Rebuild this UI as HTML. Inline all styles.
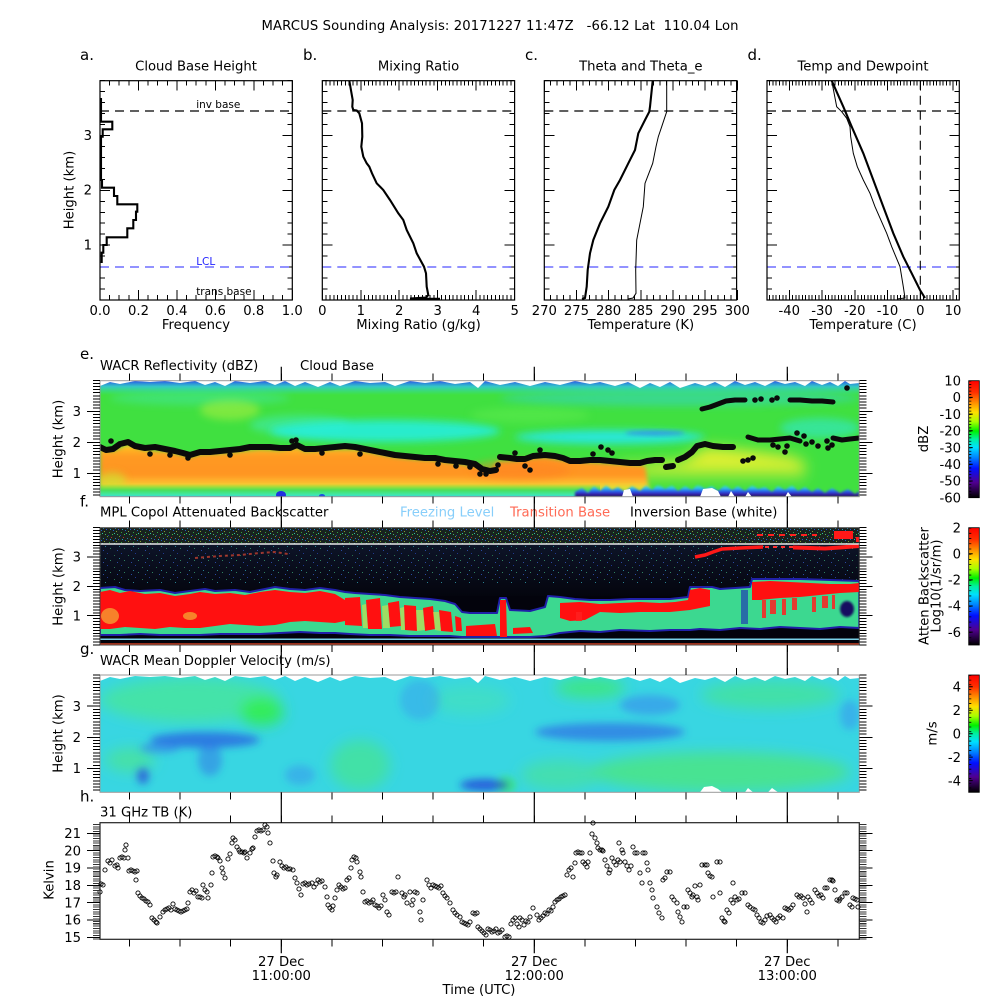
<!DOCTYPE html>
<html><head><meta charset="utf-8"><style>
html,body{margin:0;padding:0;background:#fff;}
svg{display:block;}
text{font-family:"DejaVu Sans","Liberation Sans",sans-serif;fill:#000;font-size:13.2px;}
</style></head><body>
<svg xmlns="http://www.w3.org/2000/svg" xmlns:xlink="http://www.w3.org/1999/xlink" width="1000" height="1000" viewBox="0 0 1000 1000">
<defs>
 <linearGradient id="rb" x1="0" y1="0" x2="0" y2="1">
  <stop offset="0" stop-color="#ff0000"/><stop offset="0.1" stop-color="#ff3000"/>
  <stop offset="0.19" stop-color="#ff9000"/><stop offset="0.27" stop-color="#ffe000"/>
  <stop offset="0.35" stop-color="#a8ff00"/><stop offset="0.43" stop-color="#00f000"/>
  <stop offset="0.5" stop-color="#00f0a0"/><stop offset="0.57" stop-color="#00e0ff"/>
  <stop offset="0.66" stop-color="#0080ff"/><stop offset="0.75" stop-color="#0010ff"/>
  <stop offset="0.87" stop-color="#500090"/><stop offset="1" stop-color="#000000"/>
 </linearGradient>
 <linearGradient id="og" gradientUnits="userSpaceOnUse" x1="0" y1="444" x2="0" y2="495">
  <stop offset="0" stop-color="#f0d830"/><stop offset="0.1" stop-color="#ffb424"/>
  <stop offset="0.25" stop-color="#ff9a22"/><stop offset="0.6" stop-color="#ff9422"/>
  <stop offset="0.75" stop-color="#ffb830"/><stop offset="0.85" stop-color="#e8e030"/>
  <stop offset="0.95" stop-color="#90e838"/><stop offset="1" stop-color="#60e040"/>
 </linearGradient>
 <linearGradient id="yg" x1="0" y1="0" x2="0" y2="1">
  <stop offset="0" stop-color="#e8f030"/><stop offset="0.55" stop-color="#d8f030"/><stop offset="1" stop-color="#60e040" stop-opacity="0"/>
 </linearGradient>
 <linearGradient id="topE" x1="0" y1="0" x2="0" y2="1">
  <stop offset="0" stop-color="#2850f0" stop-opacity="0.95"/><stop offset="0.4" stop-color="#30c0f0" stop-opacity="0.75"/><stop offset="1" stop-color="#30e0c0" stop-opacity="0"/>
 </linearGradient>
 <linearGradient id="botL" x1="0" y1="0" x2="0" y2="1">
  <stop offset="0" stop-color="#50e040" stop-opacity="0"/><stop offset="0.5" stop-color="#48e060"/><stop offset="0.85" stop-color="#40e8b0"/><stop offset="1" stop-color="#30c8f0"/>
 </linearGradient>
 <linearGradient id="botR" gradientUnits="userSpaceOnUse" x1="0" y1="484" x2="0" y2="497">
  <stop offset="0" stop-color="#30d8f0" stop-opacity="0"/><stop offset="0.3" stop-color="#30c8f0"/><stop offset="0.6" stop-color="#2850e8"/><stop offset="0.85" stop-color="#3a1090"/><stop offset="1" stop-color="#180030"/>
 </linearGradient>
 <linearGradient id="fdark" x1="0" y1="0" x2="0" y2="1">
  <stop offset="0" stop-color="#0d1428"/><stop offset="1" stop-color="#04050e"/>
 </linearGradient>
 <pattern id="spkD" width="12" height="10" patternUnits="userSpaceOnUse">
  <rect x="1" y="2" width="1" height="1" fill="#30a040"/><rect x="5" y="0" width="1" height="1" fill="#2060c0"/>
  <rect x="9" y="4" width="1" height="1" fill="#40b060"/><rect x="3" y="7" width="1" height="1" fill="#b03030"/>
  <rect x="7" y="8" width="1" height="1" fill="#2a80a0"/><rect x="11" y="6" width="1" height="1" fill="#60a030"/>
  <rect x="6" y="3" width="1" height="1" fill="#30c0a0"/><rect x="0" y="5" width="1" height="1" fill="#2040a0"/>
  <rect x="8" y="1" width="1" height="1" fill="#80a030"/><rect x="2" y="9" width="1" height="1" fill="#30a0c0"/>
  <rect x="10" y="9" width="1" height="1" fill="#3050d0"/><rect x="4" y="4" width="1" height="1" fill="#40c040"/>
 </pattern>
 <pattern id="spkS" width="14" height="12" patternUnits="userSpaceOnUse">
  <rect x="2" y="3" width="1" height="1" fill="#2a7050"/><rect x="9" y="1" width="1" height="1" fill="#203890"/>
  <rect x="12" y="8" width="1" height="1" fill="#308060"/><rect x="5" y="10" width="1" height="1" fill="#2a4aa0"/>
  <rect x="7" y="6" width="1" height="1" fill="#2a8090"/>
 </pattern>
 <filter id="b1" x="-20%" y="-50%" width="140%" height="200%"><feGaussianBlur stdDeviation="1"/></filter>
 <filter id="b2" x="-20%" y="-50%" width="140%" height="200%"><feGaussianBlur stdDeviation="2"/></filter>
 <filter id="b4" x="-30%" y="-80%" width="160%" height="260%"><feGaussianBlur stdDeviation="4"/></filter>
 <filter id="b7" x="-30%" y="-80%" width="160%" height="260%"><feGaussianBlur stdDeviation="7"/></filter>
 <clipPath id="cE"><rect x="100" y="380.7" width="759.3" height="116"/></clipPath>
 <clipPath id="cF"><rect x="100" y="527.7" width="759.3" height="117.3"/></clipPath>
 <clipPath id="cG"><rect x="100" y="675" width="759.3" height="117.3"/></clipPath>
 <marker id="mc" markerWidth="8" markerHeight="8" refX="4" refY="4" markerUnits="userSpaceOnUse"><circle cx="4" cy="4" r="2.1" fill="none" stroke="#000" stroke-width="0.9"/></marker>
 <g id="yt">
  <g shape-rendering="crispEdges">
  <line x1="102.5" y1="300.5" x2="102.5" y2="80" stroke="#000" stroke-width="5" stroke-dasharray="1 9.966"/>
  <line x1="289.8" y1="300.5" x2="289.8" y2="80" stroke="#000" stroke-width="5" stroke-dasharray="1 9.966"/>
  <path d="M100 245.2h10M100 190.3h10M100 135.5h10M282.3 245.2h10M282.3 190.3h10M282.3 135.5h10" stroke="#000" stroke-width="1"/>
  </g>
  <line x1="100" y1="111" x2="292.3" y2="111" stroke="#000" stroke-width="1.2" stroke-dasharray="9 6"/>
  <line x1="100" y1="267" x2="292.3" y2="267" stroke="#2424ff" stroke-width="1.1" stroke-dasharray="9 6"/>
  <rect x="100" y="80.7" width="192.3" height="219.3" fill="none" stroke="#000" stroke-width="1.2"/>
 </g>
</defs>
<rect width="1000" height="1000" fill="#fff"/>

<text x="500" y="30" text-anchor="middle" textLength="477" xml:space="preserve">MARCUS Sounding Analysis: 20171227 11:47Z   -66.12 Lat  110.04 Lon</text>

<!-- ===== Top panels ===== -->
<text x="80" y="60" style="font-size:15px">a.</text><text x="303" y="60" style="font-size:15px">b.</text>
<text x="525" y="60" style="font-size:15px">c.</text><text x="747.5" y="60" style="font-size:15px">d.</text>
<g text-anchor="middle">
<text x="196" y="70.5">Cloud Base Height</text><text x="418.5" y="70.5">Mixing Ratio</text>
<text x="640.8" y="70.5">Theta and Theta_e</text><text x="863" y="70.5">Temp and Dewpoint</text>
</g>

<use xlink:href="#yt"/>
<use xlink:href="#yt" x="222.3"/>
<use xlink:href="#yt" x="444.3"/>
<use xlink:href="#yt" x="667"/>

<g stroke="#000" shape-rendering="crispEdges">
<line x1="99.5" y1="83.2" x2="292.5" y2="83.2" stroke-width="5" stroke-dasharray="1 8.615"/>
<line x1="99.5" y1="85.7" x2="293" y2="85.7" stroke-width="10" stroke-dasharray="1 37.46"/>
<line x1="99.5" y1="297.5" x2="292.5" y2="297.5" stroke-width="5" stroke-dasharray="1 8.615"/>
<line x1="99.5" y1="295" x2="293" y2="295" stroke-width="10" stroke-dasharray="1 37.46"/>
<line x1="321.8" y1="83.2" x2="515" y2="83.2" stroke-width="5" stroke-dasharray="1 2.847"/>
<line x1="321.8" y1="85.7" x2="515.5" y2="85.7" stroke-width="10" stroke-dasharray="1 37.47"/>
<line x1="321.8" y1="297.5" x2="515" y2="297.5" stroke-width="5" stroke-dasharray="1 2.847"/>
<line x1="321.8" y1="295" x2="515.5" y2="295" stroke-width="10" stroke-dasharray="1 37.47"/>
<line x1="543.8" y1="83.2" x2="738" y2="83.2" stroke-width="5" stroke-dasharray="1 5.434"/>
<line x1="543.8" y1="85.7" x2="738" y2="85.7" stroke-width="10" stroke-dasharray="1 31.17"/>
<line x1="543.8" y1="297.5" x2="738" y2="297.5" stroke-width="5" stroke-dasharray="1 5.434"/>
<line x1="543.8" y1="295" x2="738" y2="295" stroke-width="10" stroke-dasharray="1 31.17"/>
<line x1="769.15" y1="83.2" x2="959.3" y2="83.2" stroke-width="5" stroke-dasharray="1 2.275"/>
<line x1="788.8" y1="85.7" x2="959.3" y2="85.7" stroke-width="10" stroke-dasharray="1 31.75"/>
<line x1="769.15" y1="297.5" x2="959.3" y2="297.5" stroke-width="5" stroke-dasharray="1 2.275"/>
<line x1="788.8" y1="295" x2="959.3" y2="295" stroke-width="10" stroke-dasharray="1 31.75"/>
</g>

<path d="M101 98L101 121.7L112.3 121.7L112.3 129.3L102.7 129.3L102.7 136.7L101 136.7L101 180L102 180L102 187.7L114 187.7L114 196L117.3 196L117.3 204.3L137.3 204.3L137.3 211.7L136 211.7L136 220L133.3 220L133.3 228.3L127.3 228.3L127.3 237.3L106.7 237.3L106.7 245L103.3 245L103.3 252.7L101.7 252.7L101.7 262L100.6 262" fill="none" stroke="#000" stroke-width="2.1"/>
<text x="196.2" y="108" style="font-size:10.5px">inv base</text>
<text x="196.2" y="265" style="font-size:10.5px;fill:#2424ff">LCL</text>
<text x="196.2" y="295" style="font-size:10.5px">trans base</text>

<polyline points="349.3,80.7 352.7,100 352.3,106.7 353.3,110 356.7,110.5 359.3,113.3 362,123.3 362.3,136.7 361.3,146.7 363.3,156.7 366.7,163.3 369.3,166.7 372,173.3 376.7,183.3 383.3,190 390,200 398.3,213.3 403.3,220 406.7,230 413.3,243.3 416.7,253.3 424,266.7 426,273.3 426.7,286.7 428.3,295 426,297.5 410,298.5 440,298.8" fill="none" stroke="#000" stroke-width="2.1"/>

<polyline points="652.7,80.7 650,106.7 649.3,111.7 645,120 638.3,133.3 635,150 628.3,163.3 620,180 614.3,190 608.3,206.7 600,223.3 593.3,240 590,253.3 587.7,270 586.7,286.7 585,298 582,299" fill="none" stroke="#000" stroke-width="2.1"/>
<polyline points="666.7,80.7 666.7,111.7 661.7,126.7 658.3,136.7 656,146.7 652.7,163.3 645,183.3 643.3,206.7 640,223.3 636.7,240 635.7,270 636,293.3 633,298 628,299" fill="none" stroke="#000" stroke-width="1"/>

<line x1="920.3" y1="80.7" x2="920.3" y2="300" stroke="#000" stroke-width="1.1" stroke-dasharray="9 6"/>
<polyline points="831.7,80.7 843.3,106.7 851.7,126.7 863.3,153.3 873.3,180 883.3,206.7 893.3,233.3 903.3,256.7 911.7,273.3 920,290 925,298" fill="none" stroke="#000" stroke-width="2.1"/>
<polyline points="831.7,80.7 836.7,106.7 841.7,111.7 846.7,118.3 850,126.7 850.7,136.7 853.3,153.3 857.3,166.7 863.3,180 870,193.3 875,206.7 886.7,233.3 891.7,246.7 900,266.7 903.3,286.7 905,298 897,299" fill="none" stroke="#000" stroke-width="1"/>

<g text-anchor="end">
<text x="92" y="249.5">1</text><text x="92" y="194.7">2</text><text x="92" y="139.8">3</text>
</g>
<g text-anchor="middle">
<text x="100" y="315">0.0</text><text x="138.5" y="315">0.2</text><text x="176.9" y="315">0.4</text><text x="215.4" y="315">0.6</text><text x="253.8" y="315">0.8</text><text x="292.3" y="315">1.0</text>
<text x="322.3" y="315">0</text><text x="360.8" y="315">1</text><text x="399.2" y="315">2</text><text x="437.7" y="315">3</text><text x="476.2" y="315">4</text><text x="514.7" y="315">5</text>
<text x="544.3" y="315">270</text><text x="576.5" y="315">275</text><text x="608.6" y="315">280</text><text x="640.8" y="315">285</text><text x="673" y="315">290</text><text x="705.1" y="315">295</text><text x="737.3" y="315">300</text>
<text x="789.3" y="315">-40</text><text x="822" y="315">-30</text><text x="854.8" y="315">-20</text><text x="887.5" y="315">-10</text><text x="920.3" y="315">0</text><text x="953" y="315">10</text>
<text x="196" y="329">Frequency</text><text x="418.5" y="329">Mixing Ratio (g/kg)</text>
<text x="640.8" y="329">Temperature (K)</text><text x="863" y="329">Temperature (C)</text>
<text transform="translate(73.5,190) rotate(-90)">Height (km)</text>
</g>

<!-- ===== Panel e ===== -->
<text x="80" y="359" style="font-size:15px">e.</text>
<text x="100" y="370">WACR Reflectivity (dBZ)</text>
<text x="300" y="370">Cloud Base</text>
<g clip-path="url(#cE)">
 <rect x="100" y="380.7" width="759.3" height="116" fill="#40e040"/>
 <ellipse cx="200" cy="398" rx="90" ry="7" fill="#40e8c0" opacity="0.4" filter="url(#b4)"/>
 <ellipse cx="230" cy="410" rx="30" ry="10" fill="#b0f040" opacity="0.55" filter="url(#b4)"/>
 <ellipse cx="300" cy="425" rx="50" ry="10" fill="#40ecb0" opacity="0.6" filter="url(#b4)"/>
 <ellipse cx="385" cy="431" rx="115" ry="11" fill="#28eedc" opacity="0.9" filter="url(#b4)"/>
 <ellipse cx="610" cy="437" rx="95" ry="7" fill="#28e8e8" opacity="0.9" filter="url(#b4)"/>
 <ellipse cx="655" cy="433" rx="30" ry="2.5" fill="#3090f0" opacity="0.85" filter="url(#b2)"/>
 <ellipse cx="820" cy="428" rx="40" ry="10" fill="#30e8d0" opacity="0.6" filter="url(#b4)"/>
 <ellipse cx="530" cy="415" rx="60" ry="8" fill="#60ec50" opacity="0.5" filter="url(#b4)"/>
 <ellipse cx="680" cy="398" rx="180" ry="8" fill="#30d0e8" opacity="0.45" filter="url(#b4)"/>
 <rect x="100" y="381" width="760" height="14" fill="url(#topE)"/>
 <polygon points="620,464 640,465 662,462 680,462 693,455 705,447 733,449 760,452 790,456 805,462 805,486 620,486" fill="url(#yg)" filter="url(#b7)"/>
 <polygon points="100,449 113,451 128,444 145,450 165,451 183,455 190,457 200,454 220,453 240,451 260,449 280,450 297,447 305,451 335,449 355,449 375,453 395,457 415,459 435,460 455,463 475,466 490,473 497,462 517,461 533,458 545,457 563,460 590,462 620,464 645,466 650,494 100,494" fill="url(#og)" filter="url(#b2)"/>
 <ellipse cx="112" cy="480" rx="14" ry="8" fill="#c8e830" opacity="0.6" filter="url(#b4)"/>
 <ellipse cx="520" cy="470" rx="50" ry="10" fill="#ff8020" opacity="0.5" filter="url(#b4)"/>
 <rect x="100" y="484" width="500" height="13" fill="url(#botL)"/>
 <ellipse cx="281" cy="495" rx="5" ry="4" fill="#2030e0"/>
 <ellipse cx="322" cy="496" rx="3" ry="2" fill="#2050e0"/>
 <polygon points="575,497 575,492 582,488 588,493 594,486 600,491 606,485 612,490 618,487 625,492 632,486 640,491 646,485 652,490 658,484 665,489 672,485 678,491 685,486 692,490 698,484 705,489 712,486 718,491 725,485 732,490 738,486 745,491 752,485 758,489 765,487 772,492 778,486 785,490 792,485 798,491 805,487 812,492 818,488 825,493 832,488 840,493 848,489 855,494 859.3,491 859.3,497" fill="url(#botR)" filter="url(#b1)"/>
 <polygon points="859.3,380.7 859.3,383 850,384 845,381 838,386 830,382 822,385 812,381 805,386 795,382 785,384 775,381 765,386 755,382 745,385 735,381 725,387 715,382 705,386 695,383 680,388 670,382 660,387 650,383 640,388 628,382 615,386 600,382 590,384 575,381 560,385 545,382 530,386 515,382 500,385 485,381 478,388 470,382 455,384 440,381 425,383 410,381 395,386 385,382 370,383 355,381 340,386 330,382 318,387 305,382 295,386 285,381 275,385 265,381 250,383 235,381 225,386 215,382 205,385 195,381 180,383 165,381 150,382 135,381 120,384 110,382 100,386 100,380.7" fill="#fff"/>
 <polygon points="622,497 624,490 630,489 633,497" fill="#fff"/>
 <polygon points="700,497 703,489 712,488 718,491 721,497" fill="#fff"/>
 <polygon points="728,497 731,491 735,497" fill="#fff"/>
 <polygon points="745,497 748,492 752,497" fill="#fff"/>
 <polygon points="785,497 788,492 792,497" fill="#fff"/>
 <g fill="none" stroke="#0a0a0a" stroke-width="6" stroke-linejoin="round" stroke-linecap="round">
  <polyline points="100,447 106,450 113,449 120,444 128,442 135,446 145,448 155,447 165,449 175,451 183,453 190,455 200,452 210,452 220,451 230,450 240,449 250,447 260,447 270,447 280,448 290,448 297,445 305,449 315,449 325,448 335,447 345,446 355,447 365,449 375,451 385,453 395,455 405,456 415,457 425,458 435,458 445,460 455,461 465,462 475,464 482,469 490,471 496,470"/>
  <polyline points="500,457 510,458 517,459 525,459 533,456 545,455 555,456 563,458 570,461 580,461 590,460 600,460 610,461 620,462 630,463 640,463 647,461 655,460 662,460"/>
  <polyline points="666,467 673,466"/>
  <polyline points="678,460 685,457 692,452 697,446 705,444 713,446 723,447 733,447"/>
  <polyline points="702,409 710,407 718,404 726,401 735,400 745,400" stroke-width="5"/>
  <polyline points="790,400 800,400 812,401 822,401 833,402" stroke-width="5"/>
  <polyline points="748,437 758,440 770,440 780,439 790,438 800,441" stroke-width="5"/>
  <polyline points="833,438 842,440 850,439 859,438" stroke-width="5"/>
 </g>
 <g fill="#0a0a0a">
  <circle cx="111" cy="441" r="2.8"/><circle cx="150" cy="454" r="2.8"/><circle cx="170" cy="455" r="2.8"/><circle cx="188" cy="458" r="2.8"/>
  <circle cx="230" cy="455" r="2.8"/><circle cx="292" cy="441" r="2.8"/><circle cx="296" cy="440" r="2.8"/><circle cx="322" cy="453" r="2.8"/>
  <circle cx="360" cy="454" r="2.8"/><circle cx="438" cy="464" r="2.8"/><circle cx="456" cy="466" r="2.8"/><circle cx="470" cy="467" r="2.8"/>
  <circle cx="480" cy="474" r="2.8"/><circle cx="515" cy="453" r="2.8"/><circle cx="540" cy="450" r="2.8"/><circle cx="593" cy="454" r="2.8"/>
  <circle cx="612" cy="453" r="2.8"/><circle cx="601" cy="447" r="2.8"/><circle cx="608" cy="450" r="2.8"/><circle cx="525" cy="466" r="2.8"/>
  <circle cx="530" cy="470" r="2.8"/><circle cx="498" cy="465" r="2.8"/><circle cx="486" cy="474" r="2.8"/>
  <circle cx="755" cy="400" r="2.8"/><circle cx="761" cy="399" r="2.8"/><circle cx="772" cy="400" r="2.8"/><circle cx="777" cy="398" r="2.8"/>
  <circle cx="847" cy="388" r="2.8"/><circle cx="818" cy="446" r="2.8"/><circle cx="812" cy="442" r="2.8"/><circle cx="806" cy="444" r="2.8"/>
  <circle cx="827" cy="441" r="2.8"/><circle cx="743" cy="461" r="2.8"/><circle cx="748" cy="460" r="2.8"/><circle cx="753" cy="458" r="2.8"/>
  <circle cx="832" cy="445" r="2.8"/><circle cx="828" cy="448" r="2.8"/><circle cx="797" cy="433" r="2.8"/><circle cx="804" cy="436" r="2.8"/>
  <circle cx="773" cy="445" r="2.8"/><circle cx="778" cy="447" r="2.8"/><circle cx="787" cy="446" r="2.8"/><circle cx="785" cy="452" r="2.8"/>
 </g>
</g>
<rect x="100" y="380.7" width="759.3" height="116" fill="none" stroke="#999" stroke-width="1"/>

<!-- ===== Panel f ===== -->
<text x="80" y="506.5" style="font-size:15px">f.</text>
<text x="100" y="516.5">MPL Copol Attenuated Backscatter</text>
<text x="400" y="516.5" style="fill:#87cefa">Freezing Level</text>
<text x="510" y="516.5" style="fill:#ff6a55">Transition Base</text>
<text x="630" y="516.5">Inversion Base (white)</text>
<g clip-path="url(#cF)">
 <rect x="100" y="527.7" width="759.3" height="117.3" fill="#03030c"/>
 <rect x="100" y="527.7" width="759.3" height="16.5" fill="#18221f"/>
 <rect x="100" y="527.7" width="759.3" height="16.5" fill="url(#spkD)"/>
 <rect x="100" y="544" width="759.3" height="52" fill="url(#fdark)"/>
 <rect x="100" y="544" width="759.3" height="40" fill="url(#spkS)"/>
 <polygon points="100,588 115,587 125,590 140,591 160,590 175,593 190,591 205,589 215,591 235,590 250,592 265,589 275,587 290,589 305,590 320,588 335,590 345,592 355,593 370,594 385,595 400,597 415,598 430,599 445,601 455,604 462,612 470,613 480,613 497,613 500,598 506,598 510,610 530,611 545,607 548,596 560,597 575,599 590,600 610,600 630,599 650,599 670,599 688,597 690,587 700,587 712,587 720,589 735,588 750,587 752,579 770,579 800,579 830,580 859.3,581 859.3,628 840,627 820,629 800,628 780,627 760,629 740,628 720,630 700,629 690,630 670,630 650,631 620,630 600,632 580,631 560,633 545,636 530,637 510,637 500,637 480,637 462,637 450,636 430,636 410,636 390,635 370,635 350,634 335,633 320,633 300,632 280,633 260,634 240,634 220,634 200,635 180,635 160,635 140,634 120,635 100,635" fill="#3cd890" stroke="#2020a8" stroke-width="2" stroke-linejoin="round"/>
 <g fill="#ff1010">
  <polygon points="100,592 110,590 120,593 130,591 145,594 160,593 175,596 190,594 200,592 215,594 230,593 245,595 260,592 275,590 290,592 305,593 320,591 335,594 345,600 345,621 335,623 320,622 305,621 290,622 275,625 260,626 245,625 230,624 215,626 200,628 185,628 170,627 155,629 140,628 125,627 110,629 100,629"/>
  <polygon points="345,598 360,597 362,626 345,625"/>
  <polygon points="366,600 380,598 382,629 368,629"/>
  <polygon points="388,603 399,601 401,626 390,627"/>
  <polygon points="404,605 416,606 417,631 405,630"/>
  <polygon points="423,608 433,606 435,629 425,631"/>
  <polygon points="439,610 451,612 453,632 441,631"/>
  <polygon points="455,616 461,618 462,631 456,631"/>
  <polygon points="466,626 495,624 497,636 466,636"/>
  <polygon points="500,600 506,600 507,637 500,637"/>
  <polygon points="513,628 530,627 533,633 513,634"/>
  <polygon points="560,603 580,602 600,604 620,603 640,602 660,603 675,602 688,600 690,590 700,588 710,590 710,606 690,610 670,612 640,612 620,613 600,612 585,620 570,621 560,618"/>
  <polygon points="752,582 770,581 790,582 810,583 830,584 850,584 859.3,583 859.3,592 840,593 820,595 800,597 780,598 760,600 752,600"/>
 </g>
 <g fill="#f0e040" opacity="0.55">
  <polygon points="362,605 366,604 368,628 363,628"/><polygon points="382,606 388,605 390,628 383,628"/>
  <polygon points="400,608 404,607 405,630 401,630"/><polygon points="416,610 423,610 425,630 417,631"/>
  <polygon points="433,612 439,612 441,631 435,630"/>
  <ellipse cx="110" cy="616" rx="9" ry="8"/><ellipse cx="190" cy="616" rx="7" ry="4"/>
 </g>
 <g fill="#ff2020" opacity="0.85">
  <rect x="762" y="600" width="4" height="18"/><rect x="770" y="600" width="6" height="14"/><rect x="782" y="599" width="4" height="16"/>
  <rect x="792" y="598" width="5" height="12"/><rect x="812" y="597" width="4" height="15"/><rect x="822" y="596" width="6" height="12"/>
  <rect x="832" y="595" width="3" height="14"/><rect x="576" y="612" width="6" height="9"/>
 </g>
 <ellipse cx="847" cy="609" rx="7" ry="8" fill="#181060" filter="url(#b1)"/>
 <rect x="741" y="590" width="7" height="34" fill="#2040b0" opacity="0.7"/>
 <polyline points="695,557 705,555 713,552 722,549 740,548 763,547" fill="none" stroke="#ff1818" stroke-width="3.5"/>
 <polyline points="793,547.5 810,548 825,548.5 840,547.5 859,546" fill="none" stroke="#ff1818" stroke-width="4"/>
 <polyline points="765,547 793,547" fill="none" stroke="#ff3030" stroke-width="2" stroke-dasharray="4 4"/>
 <polyline points="757,535 817,535" fill="none" stroke="#ff2020" stroke-width="2" stroke-dasharray="6 5"/>
 <rect x="834" y="531" width="19" height="8" fill="#ff1818"/>
 <rect x="856" y="537" width="4" height="5" fill="#ff1818"/>
 <polyline points="195,558 220,556 240,555 260,553 275,552 288,554" fill="none" stroke="#c04030" stroke-width="2" stroke-dasharray="3 3" opacity="0.8"/>
 <line x1="100" y1="544" x2="860" y2="544" stroke="#e8e8e8" stroke-width="1.4"/>
 <line x1="100" y1="639.3" x2="860" y2="639.3" stroke="#7ad0e8" stroke-width="1.5"/>
 <line x1="100" y1="644" x2="860" y2="644" stroke="#d04020" stroke-width="1.6"/>
</g>
<rect x="100" y="527.7" width="759.3" height="117.3" fill="none" stroke="#444" stroke-width="1"/>

<!-- ===== Panel g ===== -->
<text x="80" y="654" style="font-size:15px">g.</text>
<text x="100" y="665">WACR Mean Doppler Velocity (m/s)</text>
<g clip-path="url(#cG)">
 <rect x="100" y="675" width="759.3" height="117.3" fill="#38d6e2"/>
 <g filter="url(#b7)">
  <ellipse cx="190" cy="700" rx="90" ry="22" fill="#48e890" opacity="0.7"/>
  <ellipse cx="262" cy="712" rx="22" ry="14" fill="#30f040" opacity="0.8"/>
  <ellipse cx="130" cy="760" rx="25" ry="12" fill="#50e880" opacity="0.6"/>
  <ellipse cx="360" cy="765" rx="30" ry="25" fill="#48e880" opacity="0.6"/>
  <ellipse cx="470" cy="700" rx="40" ry="15" fill="#48e8a0" opacity="0.4"/>
  <ellipse cx="590" cy="688" rx="35" ry="10" fill="#40ec60" opacity="0.7"/>
  <ellipse cx="770" cy="695" rx="70" ry="14" fill="#48e880" opacity="0.6"/>
  <ellipse cx="720" cy="772" rx="130" ry="20" fill="#50e870" opacity="0.7"/>
  <ellipse cx="560" cy="775" rx="40" ry="15" fill="#50e880" opacity="0.5"/>
 </g>
 <g filter="url(#b4)">
  <ellipse cx="505" cy="785" rx="10" ry="8" fill="#40f040" opacity="0.8"/>
  <ellipse cx="205" cy="740" rx="55" ry="8" fill="#2a60e0" opacity="0.75"/>
  <ellipse cx="160" cy="748" rx="20" ry="5" fill="#3078e8" opacity="0.6"/>
  <ellipse cx="210" cy="760" rx="12" ry="16" fill="#3070e8" opacity="0.5"/>
  <ellipse cx="143" cy="776" rx="6" ry="8" fill="#2840d8" opacity="0.7"/>
  <ellipse cx="610" cy="732" rx="75" ry="9" fill="#2e6ee6" opacity="0.7"/>
  <ellipse cx="650" cy="705" rx="30" ry="10" fill="#3a7ef0" opacity="0.5"/>
  <ellipse cx="485" cy="785" rx="25" ry="6" fill="#2038d8" opacity="0.75"/>
  <ellipse cx="420" cy="700" rx="20" ry="20" fill="#3a90f0" opacity="0.4"/>
  <ellipse cx="850" cy="715" rx="10" ry="15" fill="#3a90f0" opacity="0.5"/>
  <ellipse cx="300" cy="775" rx="15" ry="10" fill="#3a80f0" opacity="0.4"/>
 </g>
 <polygon points="859.3,675 859.3,678 850,679 845,676 838,681 830,677 822,680 812,676 805,681 795,677 785,679 775,676 765,681 755,677 745,680 735,676 725,682 715,677 705,680 695,678 680,683 670,677 660,682 650,678 640,681 628,677 615,680 600,677 590,679 575,676 560,680 545,677 530,681 515,677 500,680 485,676 478,683 470,677 455,679 440,676 425,678 410,676 395,681 385,677 370,678 355,676 340,681 330,677 318,682 305,677 295,681 285,676 275,680 265,676 250,678 235,676 225,681 215,677 205,680 195,676 180,678 165,676 150,677 135,676 120,679 110,677 100,681 100,675" fill="#fff"/>
 <polygon points="700,792.3 704,787 712,786 718,789 722,792.3" fill="#fff"/>
 <polygon points="745,792.3 748,788 753,792.3" fill="#fff"/>
 <polygon points="768,792.3 772,788 778,792.3" fill="#fff"/>
</g>
<rect x="100" y="675" width="759.3" height="117.3" fill="none" stroke="#999" stroke-width="1"/>

<!-- ===== Panel h ===== -->
<text x="80" y="801.5" style="font-size:15px">h.</text>
<text x="100" y="816.5">31 GHz TB (K)</text>
<rect x="100" y="822.7" width="759.3" height="116.6" fill="none" stroke="#222" stroke-width="1.2"/>
<polyline fill="none" stroke="none" marker-start="url(#mc)" marker-mid="url(#mc)" marker-end="url(#mc)" points="100,892 101,884 103,885 105,870 108,861 110,863 112,860 115,866 117,865 118,868 120,858 122,857 124,858 125,850 126,845 128,858 129,871 131,870 133,871 135,872 136,880 137,871 138,893 140,896 142,898 144,899 146,901 148,902 150,905 152,918 154,920 156,922 157,923 160,917 163,912 165,910 167,909 169,908 171,910 173,904 175,909 177,910 179,911 181,912 183,911 185,910 187,909 188,903 190,892 192,890 194,893 196,891 198,897 200,897 202,898 203,885 205,890 207,892 208,898 211,885 212,873 213,857 215,856 217,857 218,858 220,861 222,868 223,873 225,878 228,859 230,854 232,843 233,838 235,840 237,847 239,850 240,852 242,852 244,853 245,852 247,858 250,853 252,849 253,848 255,837 257,831 259,830 261,831 263,830 265,825 267,827 268,833 270,843 273,861 274,873 276,877 277,875 280,862 282,866 284,868 286,867 288,869 290,869 293,870 295,878 297,883 299,889 301,895 303,884 305,883 307,885 309,884 312,883 314,887 316,884 318,880 320,882 322,881 325,887 327,897 328,905 330,908 332,910 333,906 335,898 337,890 339,885 341,887 343,889 345,888 347,880 349,878 351,868 352,860 354,857 356,858 357,862 360,872 361,877 363,892 365,902 367,901 369,903 371,902 373,900 375,905 377,906 379,908 381,906 383,895 385,900 387,912 389,915 392,892 394,893 396,892 398,877 402,893 404,897 405,895 407,903 410,892 412,905 413,900 415,892 417,893 420,912 421,920 423,900 427,880 429,885 431,888 433,885 435,886 437,887 439,888 441,886 443,893 445,896 447,898 450,903 453,910 455,913 457,915 460,917 462,922 464,923 466,924 468,925 470,922 473,913 475,914 477,913 478,927 480,929 482,931 484,933 486,935 488,929 490,930 492,932 494,931 496,929 498,933 500,932 502,930 505,937 507,936 509,937 511,924 513,920 515,918 517,924 519,927 520,918 522,920 524,925 526,921 528,922 530,917 533,908 537,915 539,920 541,918 543,916 545,913 547,914 549,910 551,911 553,907 555,902 557,900 559,899 561,897 563,896 565,895 567,875 569,870 571,868 573,877 575,863 576,853 578,852 580,853 582,853 583,862 585,864 587,867 588,862 590,853 592,834 593,823 595,838 597,843 598,848 600,850 602,850 603,851 605,860 607,866 609,873 610,870 612,858 614,862 616,865 618,860 619,843 620,862 622,850 623,853 625,862 627,866 629,870 631,866 633,847 635,853 637,853 640,873 642,883 643,853 645,853 647,863 648,870 650,883 652,890 653,898 657,907 659,913 662,918 663,880 665,878 667,872 670,872 672,897 674,900 677,903 678,912 680,917 682,922 684,907 687,907 688,890 690,893 692,897 693,895 695,886 697,897 698,900 700,885 702,865 705,865 707,865 708,873 710,876 712,877 713,897 717,862 720,862 720,893 722,918 724,921 725,922 727,910 729,913 731,900 733,883 733,903 735,897 737,900 739,899 742,893 745,893 748,905 750,907 753,909 755,910 757,915 759,918 761,922 763,923 765,920 767,916 770,915 772,918 774,920 776,922 778,918 780,916 783,918 785,908 787,909 789,910 791,908 793,905 797,895 799,897 801,896 803,898 805,904 807,912 808,897 810,900 812,903 815,890 817,893 819,896 821,895 823,898 825,888 827,888 830,880 832,880 833,881 835,890 837,900 839,901 840,899 842,897 845,893 847,893 850,905 852,907 853,898 855,899 857,900 858,907"/>

<!-- y-ticks e,f,g,h -->
<g stroke="#000" shape-rendering="crispEdges">
 <line x1="96.5" y1="379.8" x2="96.5" y2="497" stroke-width="7" stroke-dasharray="1 2.1"/>
 <line x1="862.8" y1="379.8" x2="862.8" y2="497" stroke-width="7" stroke-dasharray="1 2.1"/>
 <path d="M87 473.3h13M87 442.3h13M87 411.3h13M859.3 473.3h13M859.3 442.3h13M859.3 411.3h13" stroke-width="1"/>
 <line x1="96.5" y1="527.2" x2="96.5" y2="645.5" stroke-width="7" stroke-dasharray="1 1.933"/>
 <line x1="862.8" y1="527.2" x2="862.8" y2="645.5" stroke-width="7" stroke-dasharray="1 1.933"/>
 <path d="M87 615.7h13M87 586.3h13M87 557h13M859.3 615.7h13M859.3 586.3h13M859.3 557h13" stroke-width="1"/>
 <line x1="96.5" y1="674.6" x2="96.5" y2="792.5" stroke-width="7" stroke-dasharray="1 2.11"/>
 <line x1="862.8" y1="674.6" x2="862.8" y2="792.5" stroke-width="7" stroke-dasharray="1 2.11"/>
 <path d="M87 768.4h13M87 737.3h13M87 706.2h13M859.3 768.4h13M859.3 737.3h13M859.3 706.2h13" stroke-width="1"/>
 <line x1="96.5" y1="824.2" x2="96.5" y2="939.3" stroke-width="7" stroke-dasharray="0.8 0.933" stroke="#333"/>
 <line x1="862.8" y1="824.2" x2="862.8" y2="939.3" stroke-width="7" stroke-dasharray="0.8 0.933" stroke="#333"/>
 <path d="M87 937.3h13M87 920h13M87 902.7h13M87 885.3h13M87 868h13M87 850.6h13M87 833.3h13M859.3 937.3h13M859.3 920h13M859.3 902.7h13M859.3 885.3h13M859.3 868h13M859.3 850.6h13M859.3 833.3h13" stroke-width="1"/>
</g>

<!-- time ticks -->
<g stroke="#000" stroke-width="7" stroke-dasharray="1 49.6" shape-rendering="crispEdges">
 <line x1="129" y1="377.2" x2="860" y2="377.2"/><line x1="129" y1="500.2" x2="860" y2="500.2"/>
 <line x1="129" y1="524.2" x2="860" y2="524.2"/><line x1="129" y1="648.5" x2="860" y2="648.5"/>
 <line x1="129" y1="671.5" x2="860" y2="671.5"/><line x1="129" y1="795.8" x2="860" y2="795.8"/>
 <line x1="129" y1="819.2" x2="860" y2="819.2"/><line x1="129" y1="942.8" x2="860" y2="942.8"/>
</g>
<g stroke="#000" stroke-width="1.2">
 <path d="M281.3 366.7V380.7M534.3 366.7V380.7M787.3 366.7V380.7"/>
 <path d="M281.3 496.7V527.7M534.3 496.7V527.7M787.3 496.7V527.7"/>
 <path d="M281.3 645V675M534.3 645V675M787.3 645V675"/>
 <path d="M281.3 792.3V822.7M534.3 792.3V822.7M787.3 792.3V822.7"/>
 <path d="M281.3 939.3V953.3M534.3 939.3V953.3M787.3 939.3V953.3"/>
</g>

<g text-anchor="end">
 <text x="81" y="478">1</text><text x="81" y="447">2</text><text x="81" y="416">3</text>
 <text x="81" y="620.4">1</text><text x="81" y="591">2</text><text x="81" y="561.7">3</text>
 <text x="81" y="773.1">1</text><text x="81" y="742">2</text><text x="81" y="710.9">3</text>
 <text x="81" y="942">15</text><text x="81" y="924.7">16</text><text x="81" y="907.4">17</text><text x="81" y="890">18</text><text x="81" y="872.7">19</text><text x="81" y="855.3">20</text><text x="81" y="838">21</text>
</g>
<g text-anchor="middle">
 <text transform="translate(62.5,439) rotate(-90)">Height (km)</text>
 <text transform="translate(62.5,586.5) rotate(-90)">Height (km)</text>
 <text transform="translate(62.5,733.5) rotate(-90)">Height (km)</text>
 <text transform="translate(53.5,880) rotate(-90)">Kelvin</text>
 <text x="281.3" y="966">27 Dec</text><text x="281.3" y="980">11:00:00</text>
 <text x="534.3" y="966">27 Dec</text><text x="534.3" y="980">12:00:00</text>
 <text x="787.3" y="966">27 Dec</text><text x="787.3" y="980">13:00:00</text>
 <text x="479" y="994">Time (UTC)</text>
</g>

<!-- colorbars -->
<rect x="968.7" y="380.7" width="10.6" height="117" fill="url(#rb)" stroke="#000" stroke-width="0.8"/>
<rect x="968.7" y="527.7" width="10.6" height="117.3" fill="url(#rb)" stroke="#000" stroke-width="0.8"/>
<rect x="968.7" y="675" width="10.6" height="117.3" fill="url(#rb)" stroke="#000" stroke-width="0.8"/>
<g stroke="#000" stroke-width="1">
 <line x1="970" y1="380.7" x2="970" y2="497.7" stroke-width="2.6" stroke-dasharray="0.8 2.54"/>
 <path d="M968.7 397.4h4M968.7 414.1h4M968.7 430.8h4M968.7 447.6h4M968.7 464.3h4M968.7 481h4"/>
 <line x1="970" y1="527.7" x2="970" y2="645" stroke-width="2.6" stroke-dasharray="0.8 4.42"/>
 <path d="M968.7 553.8h4M968.7 579.9h4M968.7 606h4M968.7 632.1h4"/>
 <line x1="970" y1="675" x2="970" y2="792.3" stroke-width="2.6" stroke-dasharray="0.8 3.89"/>
 <path d="M968.7 686.7h4M968.7 710.2h4M968.7 733.7h4M968.7 757.1h4M968.7 780.6h4"/>
</g>
<g text-anchor="end">
 <text x="961" y="385.4">10</text><text x="961" y="402.1">0</text><text x="961" y="418.8">-10</text><text x="961" y="435.5">-20</text>
 <text x="961" y="452.3">-30</text><text x="961" y="469">-40</text><text x="961" y="485.7">-50</text><text x="961" y="502.4">-60</text>
 <text x="961" y="532.4">2</text><text x="961" y="558.5">0</text><text x="961" y="584.6">-2</text><text x="961" y="610.7">-4</text><text x="961" y="636.8">-6</text>
 <text x="961" y="691.4">4</text><text x="961" y="714.9">2</text><text x="961" y="738.4">0</text><text x="961" y="761.8">-2</text><text x="961" y="785.3">-4</text>
</g>
<g text-anchor="middle">
 <text transform="translate(928,439) rotate(-90)">dBZ</text>
 <text transform="translate(928.5,586) rotate(-90)">Atten Backscatter</text>
 <text transform="translate(940.5,586) rotate(-90)">Log10(1/sr/m)</text>
 <text transform="translate(936.5,733.5) rotate(-90)">m/s</text>
</g>
</svg>
</body></html>
